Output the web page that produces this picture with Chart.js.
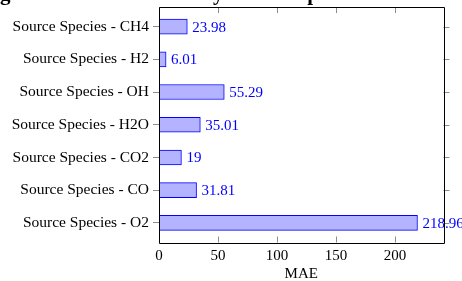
<!DOCTYPE html>
<html>
<head>
<meta charset="utf-8">
<script src="https://cdn.jsdelivr.net/npm/chart.js@4/dist/chart.umd.min.js"></script>
<style>
html,body{margin:0;padding:0;background:#fff;}
#wrap{width:462px;height:281px;position:relative;}
</style>
</head>
<body>
<div id="wrap"><canvas id="c" width="462" height="281"></canvas></div>
<script>
const categories = ["Source Species - CH4","Source Species - H2","Source Species - OH","Source Species - H2O","Source Species - CO2","Source Species - CO","Source Species - O2"];
const maeValues = [23.98, 6.01, 55.29, 35.01, 19, 31.81, 218.96];
const xTicks = [0, 50, 100, 150, 200];
const titleText = "Training Set Prediction MAE by Source Species";

const FONT = "'Liberation Serif', 'Times New Roman', serif";

const framePlugin = {
  id: 'frame',
  afterDatasetsDraw(chart) {
    const ctx = chart.ctx, a = chart.chartArea;
    const xs = chart.scales.x, ys = chart.scales.y;
    ctx.save();
    // value labels
    const meta = chart.getDatasetMeta(0);
    ctx.font = "15px " + FONT;
    ctx.fillStyle = "#0000ff";
    ctx.textAlign = "left";
    ctx.textBaseline = "middle";
    meta.data.forEach((bar, i) => {
      ctx.fillText(String(maeValues[i]), bar.x + 5, bar.y + 1);
    });
    // ticks
    ctx.strokeStyle = "#8c8c8c";
    ctx.lineWidth = 1;
    ctx.beginPath();
    xTicks.forEach(v => {
      const px = Math.round(xs.getPixelForValue(v)) + 0.5;
      ctx.moveTo(px, a.top); ctx.lineTo(px, a.top + 6);
      ctx.moveTo(px, a.bottom); ctx.lineTo(px, a.bottom - 6);
    });
    categories.forEach((c, i) => {
      const py = Math.round(ys.getPixelForValue(i)) + 0.5;
      ctx.moveTo(a.right, py); ctx.lineTo(a.right + 6, py);
    });
    ctx.stroke();
    // frame
    ctx.strokeStyle = "#000";
    ctx.beginPath();
    ctx.rect(Math.round(a.left) + 0.5, Math.round(a.top) + 0.5, Math.round(a.right - a.left), Math.round(a.bottom - a.top));
    ctx.stroke();
    // title (cropped at top of picture)
    ctx.font = "bold 21px " + FONT;
    ctx.fillStyle = "#000";
    ctx.textBaseline = "alphabetic";
    const pre = ctx.measureText("Trainin").width;
    ctx.fillText(titleText, -pre, 0);
    ctx.restore();
  }
};

new Chart(document.getElementById('c'), {
  type: 'bar',
  data: {
    labels: categories,
    datasets: [{
      data: maeValues.map((v, i) => ({x: v, y: i})),
      backgroundColor: "rgb(179,179,255)",
      borderColor: "#0000ff",
      borderWidth: 1,
      borderSkipped: false,
      barThickness: 15
    }]
  },
  options: {
    indexAxis: 'y',
    responsive: false,
    animation: false,
    devicePixelRatio: 1,
    layout: {padding: {top: 7, right: 18.5, left: 0, bottom: 0}},
    plugins: {legend: {display: false}, tooltip: {enabled: false}, title: {display: false}},
    scales: {
      x: {
        type: 'linear',
        min: 0, max: 241,
        afterBuildTicks: s => { s.ticks = xTicks.map(v => ({value: v})); },
        afterFit: s => { s.height = 38.5; s.paddingLeft = 0; s.paddingRight = 0; },
        grid: {display: false, drawTicks: false},
        border: {display: false},
        ticks: {font: {family: FONT, size: 15}, color: "#000", padding: 5, maxRotation: 0},
        title: {display: true, text: "MAE", font: {family: FONT, size: 15, lineHeight: 1}, color: "#000", padding: {top: 0, bottom: -1}}
      },
      y: {
        type: 'linear',
        reverse: true,
        offset: false,
        min: -0.6, max: 6.6,
        afterBuildTicks: s => { s.ticks = categories.map((c, i) => ({value: i})); },
        afterFit: s => { s.width = 159; s.paddingTop = 0; s.paddingBottom = 0; },
        grid: {display: true, offset: false, drawOnChartArea: false, drawTicks: true, tickLength: 6, color: "#8c8c8c"},
        border: {display: false},
        ticks: {font: {family: FONT, size: 15.5}, color: "#000", padding: 4, autoSkip: false,
          callback: v => categories[v]}
      }
    }
  },
  plugins: [framePlugin]
});
</script>
</body>
</html>
